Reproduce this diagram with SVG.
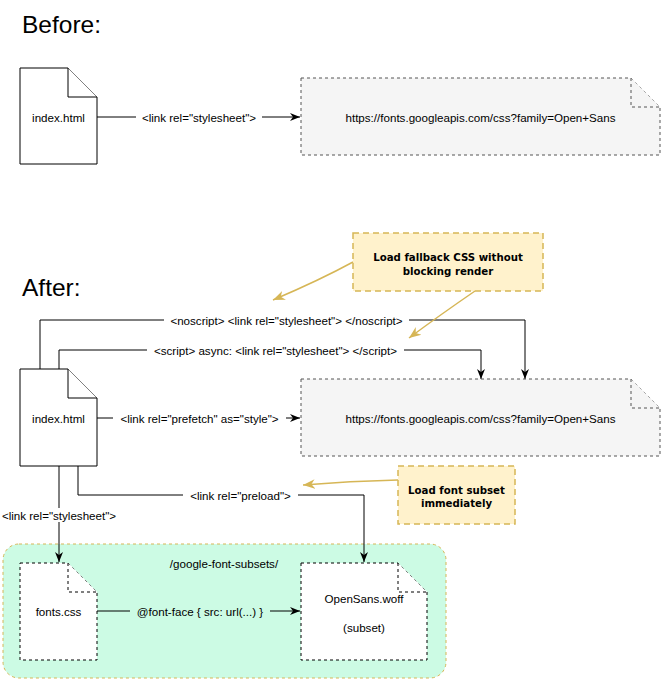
<svg xmlns="http://www.w3.org/2000/svg" width="661" height="680" viewBox="0 0 661 680">
<defs>
<style>
.lbl{font-family:"Liberation Sans",Arial,sans-serif;font-size:11.6px;fill:#000;text-anchor:middle;dominant-baseline:central}
.title{font-family:"Liberation Sans",Arial,sans-serif;font-size:24.5px;fill:#000}
.doc{fill:#fff;stroke:#000;stroke-width:1}
.ddoc{fill:#fff;stroke:#000;stroke-width:1;stroke-dasharray:3 3}
.gdoc{fill:#f5f5f5;stroke:#555;stroke-width:1;stroke-dasharray:3 3}
.edge{fill:none;stroke:#000;stroke-width:1}
.note{fill:#fff2cc;stroke:#d6b656;stroke-width:1.5;stroke-dasharray:6 4}
.ntxt{font-family:"DejaVu Sans",sans-serif;font-weight:bold;font-size:10.2px;fill:#000;text-anchor:middle;dominant-baseline:central}
.yarrow{fill:none;stroke:#d6b656;stroke-width:1.5}
</style>
<marker id="ah" viewBox="0 0 10 10" refX="10" refY="5" markerWidth="10" markerHeight="10" markerUnits="userSpaceOnUse" orient="auto">
<path d="M0,1 L10,5 L0,9 L3,5 Z" fill="#000"/>
</marker>
<marker id="yh" viewBox="0 0 10 10" refX="10" refY="5" markerWidth="12" markerHeight="12" markerUnits="userSpaceOnUse" orient="auto">
<path d="M0,1 L10,5 L0,9 L3,5 Z" fill="#d6b656"/>
</marker>
</defs>
<rect width="661" height="680" fill="#fff"/>

<text class="title" x="22" y="33">Before:</text>
<text class="title" x="22" y="296">After:</text>

<g id="container">
<rect x="3" y="544" width="443" height="134" rx="16" fill="#ccfbe4" stroke="#d6b656" stroke-width="1" stroke-dasharray="3 3"/>
<text class="lbl" x="224" y="563">/google-font-subsets/</text>
</g>

<g id="connectors">
<!-- before -->
<line class="edge" x1="97" y1="117" x2="300" y2="117" marker-end="url(#ah)"/>
<rect x="136" y="110" width="126" height="14" fill="#fff"/>
<text class="lbl" x="199" y="117">&lt;link rel="stylesheet"&gt;</text>
<!-- noscript -->
<polyline class="edge" points="40,369 40,320 525,320 525,379" marker-end="url(#ah)"/>
<rect x="164" y="313" width="245" height="14" fill="#fff"/>
<text class="lbl" x="286.5" y="320">&lt;noscript&gt; &lt;link rel="stylesheet"&gt; &lt;/noscript&gt;</text>
<!-- script -->
<polyline class="edge" points="59,369 59,350 481,350 481,379" marker-end="url(#ah)"/>
<rect x="147" y="343" width="257" height="14" fill="#fff"/>
<text class="lbl" x="275.5" y="350">&lt;script&gt; async: &lt;link rel="stylesheet"&gt; &lt;/script&gt;</text>
<!-- prefetch -->
<line class="edge" x1="97" y1="418" x2="300" y2="418" marker-end="url(#ah)"/>
<rect x="113" y="411" width="173" height="14" fill="#fff"/>
<text class="lbl" x="199.5" y="418">&lt;link rel="prefetch" as="style"&gt;</text>
<!-- preload -->
<polyline class="edge" points="78,466 78,495 364,495 364,562" marker-end="url(#ah)"/>
<rect x="183" y="488" width="115" height="14" fill="#fff"/>
<text class="lbl" x="240.5" y="495">&lt;link rel="preload"&gt;</text>
<!-- stylesheet -->
<line class="edge" x1="59" y1="466" x2="59" y2="562" marker-end="url(#ah)"/>
<rect x="0" y="508" width="120" height="14" fill="#fff"/>
<text class="lbl" x="59" y="515">&lt;link rel="stylesheet"&gt;</text>
<!-- font-face -->
<line class="edge" x1="97" y1="611" x2="300" y2="611" marker-end="url(#ah)"/>
<rect x="130" y="604" width="140" height="14" fill="#ccfbe4"/>
<text class="lbl" x="200" y="611">@font-face { src: url(...) }</text>
</g>

<g id="before-index">
<path class="doc" d="M20,68 H68 L97,97 V164 H20 Z"/>
<path class="doc" d="M68,68 V97 H97" fill="none"/>
<text class="lbl" x="58.5" y="117">index.html</text>
</g>

<g id="before-google">
<path class="gdoc" d="M301,78 H631 L660,107 V155 H301 Z"/>
<path class="gdoc" d="M631,78 V107 H660" fill="none"/>
<text class="lbl" x="480.5" y="117">https://fonts.googleapis.com/css?family=Open+Sans</text>
</g>

<g id="after-index">
<path class="doc" d="M20,369 H68 L97,398 V466 H20 Z"/>
<path class="doc" d="M68,369 V398 H97" fill="none"/>
<text class="lbl" x="58.5" y="418">index.html</text>
</g>

<g id="after-google">
<path class="gdoc" d="M301,379 H631 L660,408 V456 H301 Z"/>
<path class="gdoc" d="M631,379 V408 H660" fill="none"/>
<text class="lbl" x="480.5" y="418">https://fonts.googleapis.com/css?family=Open+Sans</text>
</g>

<g id="fonts-css">
<path class="ddoc" d="M20,563 H68 L97,592 V660 H20 Z"/>
<path class="ddoc" d="M68,563 V592 H97" fill="none"/>
<text class="lbl" x="58.5" y="611">fonts.css</text>
</g>

<g id="opensans">
<path class="ddoc" d="M301,563 H398 L427,592 V660 H301 Z"/>
<path class="ddoc" d="M398,563 V592 H427" fill="none"/>
<text class="lbl" x="364" y="598">OpenSans.woff</text>
<text class="lbl" x="364" y="627">(subset)</text>
</g>

<g id="note-fallback">
<rect class="note" x="353" y="233" width="190" height="58"/>
<text class="ntxt" x="448" y="257">Load fallback CSS without</text>
<text class="ntxt" x="448" y="271">blocking render</text>
<path class="yarrow" d="M353,262 Q320,280 273,300" marker-end="url(#yh)"/>
<path class="yarrow" d="M475,291 Q440,315 409,338" marker-end="url(#yh)"/>
</g>

<g id="note-preload">
<rect class="note" x="398" y="466" width="117" height="58"/>
<text class="ntxt" x="456.5" y="490">Load font subset</text>
<text class="ntxt" x="456.5" y="503">immediately</text>
<path class="yarrow" d="M398,480 Q350,481 303,485" marker-end="url(#yh)"/>
</g>
</svg>
